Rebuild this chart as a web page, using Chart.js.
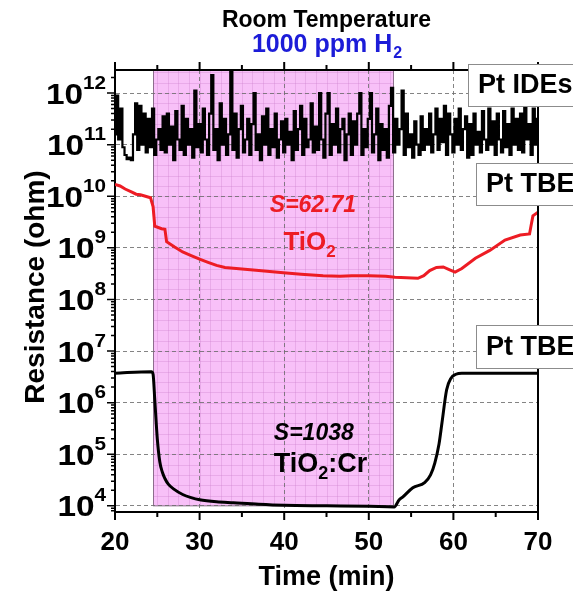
<!DOCTYPE html>
<html>
<head>
<meta charset="utf-8">
<script src="https://cdn.jsdelivr.net/npm/chart.js@4.4.1/dist/chart.umd.min.js"></script>
<style>
html, body { margin: 0; padding: 0; background: #fff; }
canvas { display: block; }
</style>
</head>
<body>
<canvas id="myChart1" width="573" height="595"></canvas>
<script>
/*--data (resistance stored as log10 exponents)--*/
var idesTime = [
20,20.25,20.5,20.75,21,21.25,21.5,21.75,
22,22.25,22.5,22.75,23,23.25,23.5,23.75,
24,24.25,24.5,24.75,25,25.25,25.5,25.75,
26,26.25,26.5,26.75,27,27.25,27.5,27.75,
28,28.25,28.5,28.75,29,29.25,29.5,29.75,
30,30.25,30.5,30.75,31,31.25,31.5,31.75,
32,32.25,32.5,32.75,33,33.25,33.5,33.75,
34,34.25,34.5,34.75,35,35.25,35.5,35.75,
36,36.25,36.5,36.75,37,37.25,37.5,37.75,
38,38.25,38.5,38.75,39,39.25,39.5,39.75,
40,40.25,40.5,40.75,41,41.25,41.5,41.75,
42,42.25,42.5,42.75,43,43.25,43.5,43.75,
44,44.25,44.5,44.75,45,45.25,45.5,45.75,
46,46.25,46.5,46.75,47,47.25,47.5,47.75,
48,48.25,48.5,48.75,49,49.25,49.5,49.75,
50,50.25,50.5,50.75,51,51.25,51.5,51.75,
52,52.25,52.5,52.75,53,53.25,53.5,53.75,
54,54.25,54.5,54.75,55,55.25,55.5,55.75,
56,56.25,56.5,56.75,57,57.25,57.5,57.75,
58,58.25,58.5,58.75,59,59.25,59.5,59.75,
60,60.25,60.5,60.75,61,61.25,61.5,61.75,
62,62.25,62.5,62.75,63,63.25,63.5,63.75,
64,64.25,64.5,64.75,65,65.25,65.5,65.75,
66,66.25,66.5,66.75,67,67.25,67.5,67.75,
68,68.25,68.5,68.75,69,69.25,69.5,69.75,
70];
var idesExp = [
11.2,11.95,11.1,11.7,10.95,10.8,10.72,10.75,
10.7,11.2,11.8,10.9,11.75,11.0,11.6,10.85,
11.5,10.95,11.7,10.8,11.1,11.3,10.9,11.55,
10.85,11.6,11.0,11.35,10.7,11.65,11.1,10.9,
11.75,10.8,11.5,11.0,11.3,10.75,12.05,10.95,
11.4,10.85,11.7,11.1,10.8,11.6,12.35,10.9,
11.3,10.7,11.8,11.0,11.5,10.8,11.2,12.5,
10.9,11.6,10.75,11.3,11.75,10.85,11.1,11.5,
10.8,11.4,12.0,10.9,11.2,10.7,11.55,11.0,
11.7,10.8,11.3,10.95,11.6,10.75,11.1,11.45,
10.85,11.5,11.0,11.25,10.7,11.65,10.9,11.3,
11.75,10.8,11.5,10.95,11.1,11.8,10.85,11.35,
10.9,12.0,11.1,10.75,11.6,12.0,10.8,11.4,
11.0,11.7,10.85,11.3,11.5,10.7,11.2,11.6,
10.8,11.45,11.0,11.6,12.0,10.8,11.3,10.95,
11.5,12.0,10.85,11.2,11.7,10.7,11.4,10.9,
11.3,10.75,11.75,12.1,10.85,11.5,11.0,11.3,
12.05,10.8,11.6,10.95,11.2,10.75,11.45,11.0,
10.8,11.55,10.9,11.3,11.0,11.6,10.85,11.2,
11.7,10.9,11.5,11.05,11.75,10.8,11.6,11.2,
10.85,11.5,11.0,11.7,10.9,11.3,11.55,10.75,
11.4,10.8,11.6,11.0,11.25,10.85,11.65,11.1,
10.9,11.7,11.0,11.45,10.8,11.6,11.1,10.85,
11.65,10.95,11.4,10.8,11.7,11.0,11.5,10.9,
11.6,10.85,11.75,11.1,11.4,10.8,11.7,11.0,
11.5];

var tio2Time = [20,20.6,21.2,22,22.5,23,23.6,24.2,24.5,24.7,25.5,25.9,26.1,27,28,29,
  30,31,32,33,35,37,39.9,42,44.6,46.6,48,50.1,52,53.1,55.8,56.5,
  57.2,58,58.8,59.5,60.2,61,62.6,64.3,66.1,67.9,69,69.2,69.4,70];
var tio2Exp = [10.23,10.2,10.14,10.08,10.04,10.03,10.0,9.97,9.8,9.42,9.37,9.36,9.12,9.02,8.92,8.85,
  8.78,8.72,8.66,8.62,8.59,8.56,8.52,8.49,8.46,8.45,8.46,8.46,8.45,8.43,8.41,8.46,
  8.56,8.62,8.63,8.58,8.53,8.60,8.80,8.95,9.15,9.25,9.27,9.45,9.62,9.69];

var crTime = [20,24.3,24.5,24.7,25,25.3,25.6,25.9,26.3,27,28,29,30,32,34,37,
  40,45,50,53,53.6,54,55.2,56.6,57.3,57.8,58.3,58.65,59.2,59.7,60.3,61,70];
var crExp = [6.57,6.6,6.55,6.06,5.3,4.85,4.65,4.53,4.42,4.32,4.22,4.16,4.12,4.08,4.06,4.03,
  4.01,4.0,3.99,3.98,4.12,4.17,4.35,4.45,4.6,4.83,5.2,5.61,6.25,6.47,6.55,6.57,6.57];

var xTicks = [20, 30, 40, 50, 60, 70];
var yDecades = [4, 5, 6, 7, 8, 9, 10, 11, 12];
var h2Start = 24.5, h2End = 52.9;

var FONT = '"Liberation Sans", Arial, sans-serif';
var RED = '#ed1c24';

function toPoints(ts, es) {
  return ts.map(function (t, i) { return { x: t, y: Math.pow(10, es[i]) }; });
}

/*--decorations--*/
var decor = {
  id: 'decor',
  beforeDraw: function (chart) {
    var ctx = chart.ctx, a = chart.chartArea, xs = chart.scales.x, ys = chart.scales.y;
    var x1 = xs.getPixelForValue(h2Start), x2 = xs.getPixelForValue(h2End);
    var yb = ys.getPixelForValue(1e4);
    ctx.save();
    ctx.fillStyle = '#f8c0f8';
    ctx.fillRect(x1, a.top, x2 - x1, yb - a.top);
    // fine grid pattern of the shaded window
    ctx.strokeStyle = 'rgba(205,130,205,0.35)';
    ctx.lineWidth = 1;
    ctx.beginPath();
    for (var t = 30 - 1.25 * 4; t < h2End; t += 1.25) {
      if (t <= h2Start) continue;
      var px = Math.round(xs.getPixelForValue(t)) + 0.5;
      ctx.moveTo(px, a.top); ctx.lineTo(px, yb);
    }
    for (var e = 4.2; e < 12.5; e += 0.2) {
      var py = Math.round(ys.getPixelForValue(Math.pow(10, e))) + 0.5;
      if (py < a.top) break;
      ctx.moveTo(x1, py); ctx.lineTo(x2, py);
    }
    ctx.stroke();
    ctx.strokeStyle = 'rgba(130,100,130,0.9)';
    ctx.strokeRect(Math.round(x1) + 0.5, a.top, Math.round(x2 - x1), yb - a.top);
    ctx.restore();
  },
  afterDraw: function (chart) {
    var ctx = chart.ctx, a = chart.chartArea, xs = chart.scales.x, ys = chart.scales.y;
    ctx.save();
    // frame top and right
    ctx.strokeStyle = '#000';
    ctx.lineWidth = 2;
    ctx.beginPath();
    ctx.moveTo(a.left, a.top); ctx.lineTo(a.right, a.top); ctx.lineTo(a.right, a.bottom);
    ctx.stroke();

    // x tick marks, bottom and top
    ctx.lineWidth = 2;
    ctx.beginPath();
    for (var t = 20; t <= 70; t += 5) {
      var px = xs.getPixelForValue(t);
      var len = (t % 10 === 0) ? 8 : 5;
      ctx.moveTo(px, a.bottom); ctx.lineTo(px, a.bottom + len);
      ctx.moveTo(px, a.top); ctx.lineTo(px, a.top - len);
    }
    ctx.stroke();

    // y tick marks (log minor), left side
    ctx.lineWidth = 1.5;
    ctx.beginPath();
    for (var e = 3; e <= 12; e++) {
      for (var m = 1; m <= 9; m++) {
        var v = m * Math.pow(10, e);
        if (v < ys.min || v > ys.max) continue;
        var py = ys.getPixelForValue(v);
        ctx.moveTo(a.left, py); ctx.lineTo(a.left - (m === 1 ? 8 : 4), py);
      }
    }
    ctx.stroke();

    // y tick labels 10^n (drawn slightly widened like the source figure)
    ctx.fillStyle = '#000';
    ctx.textBaseline = 'alphabetic';
    ctx.textAlign = 'left';
    var sx = 1.15;
    yDecades.forEach(function (n) {
      var py = ys.getPixelForValue(Math.pow(10, n));
      var sup = String(n);
      ctx.font = 'bold 18px ' + FONT;
      var ws = ctx.measureText(sup).width * sx;
      ctx.font = 'bold 29px ' + FONT;
      var wb = ctx.measureText('10').width * sx;
      var right = 106;
      ctx.save();
      ctx.translate(right - ws - wb, py + 10.5);
      ctx.scale(sx, 1);
      ctx.fillText('10', 0, 0);
      ctx.font = 'bold 18px ' + FONT;
      ctx.fillText(sup, wb / sx, -15);
      ctx.restore();
    });

    // axis titles
    ctx.textAlign = 'center';
    ctx.textBaseline = 'middle';
    ctx.font = 'bold 27px ' + FONT;
    ctx.fillText('Time (min)', (a.left + a.right) / 2, 578);
    ctx.save();
    ctx.translate(36, 287);
    ctx.rotate(-Math.PI / 2);
    ctx.font = 'bold 28px ' + FONT;
    ctx.fillText('Resistance (ohm)', 0, 0);
    ctx.restore();

    // top titles
    var cx = (a.left + a.right) / 2;
    ctx.font = 'bold 23px ' + FONT;
    ctx.fillText('Room Temperature', cx, 21);
    ctx.font = 'bold 25px ' + FONT;
    var w1 = ctx.measureText('1000 ppm H').width;
    ctx.font = 'bold 16px ' + FONT;
    var w2 = ctx.measureText('2').width;
    ctx.fillStyle = '#1c1cd8';
    ctx.textAlign = 'left';
    ctx.font = 'bold 25px ' + FONT;
    ctx.fillText('1000 ppm H', cx - (w1 + w2) / 2, 45);
    ctx.font = 'bold 16px ' + FONT;
    ctx.fillText('2', cx - (w1 + w2) / 2 + w1 + 1, 54);

    // in-plot annotations
    function subText(parts, x, y, color, size) {
      var tot = 0;
      parts.forEach(function (p) {
        ctx.font = 'bold ' + (p[1] ? Math.round(size * 0.65) : size) + 'px ' + FONT;
        tot += ctx.measureText(p[0]).width;
      });
      var px = x - tot / 2;
      ctx.fillStyle = color;
      ctx.textAlign = 'left';
      parts.forEach(function (p) {
        ctx.font = 'bold ' + (p[1] ? Math.round(size * 0.65) : size) + 'px ' + FONT;
        ctx.fillText(p[0], px, p[1] ? y + size * 0.35 : y);
        px += ctx.measureText(p[0]).width;
      });
    }
    ctx.textBaseline = 'middle';
    ctx.textAlign = 'center';
    ctx.fillStyle = RED;
    ctx.font = 'italic bold 23px ' + FONT;
    ctx.fillText('S=62.71', xs.getPixelForValue(43.4), 206);
    subText([['TiO', false], ['2', true]], xs.getPixelForValue(43.0), 243, RED, 26);
    ctx.textAlign = 'center';
    ctx.fillStyle = '#000';
    ctx.font = 'italic bold 23px ' + FONT;
    ctx.fillText('S=1038', xs.getPixelForValue(43.5), 434);
    subText([['TiO', false], ['2', true], [':Cr', false]], xs.getPixelForValue(44.3), 465, '#000', 27);

    // label boxes on the right
    function box(text, x, y, h) {
      ctx.fillStyle = '#fff';
      ctx.fillRect(x, y, 140, h);
      ctx.strokeStyle = '#8c8c8c';
      ctx.lineWidth = 1;
      ctx.strokeRect(x + 0.5, y + 0.5, 140, h);
      ctx.fillStyle = '#000';
      ctx.font = 'bold 27px ' + FONT;
      ctx.textAlign = 'left';
      ctx.textBaseline = 'middle';
      ctx.fillText(text, x + 10, y + h / 2 + 1);
    }
    box('Pt IDEs', 468, 64, 42);
    box('Pt TBE', 476, 163, 42);
    box('Pt TBE', 476, 325, 43);
    ctx.restore();
  }
};

/*--myChart1--*/
var ctx = document.getElementById('myChart1').getContext('2d');
var myChart1 = new Chart(ctx, {
  type: 'line',
  plugins: [decor],
  data: {
    datasets: [
      {
        label: 'Pt IDEs',
        data: toPoints(idesTime, idesExp),
        borderColor: '#000',
        borderWidth: 2.2,
        pointRadius: 0,
        stepped: 'middle'
      },
      {
        label: 'TiO2',
        data: toPoints(tio2Time, tio2Exp),
        borderColor: RED,
        borderWidth: 3,
        pointRadius: 0,
        tension: 0
      },
      {
        label: 'TiO2:Cr',
        data: toPoints(crTime, crExp),
        borderColor: '#000',
        borderWidth: 3,
        pointRadius: 0,
        cubicInterpolationMode: 'monotone'
      }
    ]
  },
  options: {
    responsive: false,
    animation: false,
    devicePixelRatio: 1,
    layout: { padding: { top: 70, right: 35, left: 0, bottom: 0 } },
    plugins: { legend: { display: false }, tooltip: { enabled: false } },
    scales: {
      x: {
        type: 'linear',
        min: 20,
        max: 70,
        afterBuildTicks: function (s) { s.ticks = xTicks.map(function (v) { return { value: v }; }); },
        afterFit: function (s) { s.height = 83; },
        ticks: {
          color: '#000',
          font: { family: FONT, size: 26, weight: 'bold' },
          padding: 15,
          maxRotation: 0,
          autoSkip: false
        },
        grid: {
          drawTicks: false,
          color: function (c) {
            var v = c.tick ? c.tick.value : 0;
            return (v === 20 || v === 70) ? 'rgba(0,0,0,0)' : 'rgba(110,110,110,0.85)';
          },
          lineWidth: 1
        },
        border: { color: '#000', width: 2, dash: [4, 3] }
      },
      y: {
        type: 'logarithmic',
        min: 7600,
        max: 2.8e12,
        afterBuildTicks: function (s) { s.ticks = yDecades.map(function (n) { return { value: Math.pow(10, n) }; }); },
        afterFit: function (s) { s.width = 115; },
        ticks: { display: false },
        grid: { drawTicks: false, color: 'rgba(110,110,110,0.85)', lineWidth: 1 },
        border: { color: '#000', width: 2, dash: [4, 3] }
      }
    }
  }
});
</script>
</body>
</html>
